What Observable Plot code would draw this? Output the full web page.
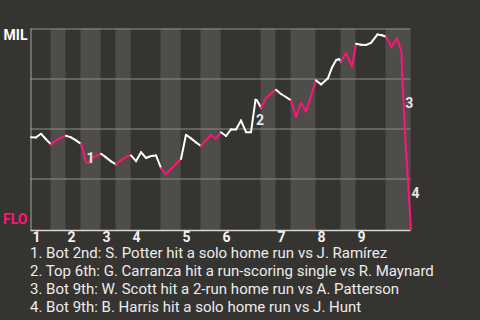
<!DOCTYPE html>
<html>
<head>
<meta charset="utf-8">
<script src="https://cdn.jsdelivr.net/npm/d3@7"></script>
<script src="https://cdn.jsdelivr.net/npm/@observablehq/plot@0.6"></script>
<style>
  html, body { margin: 0; padding: 0; background: #363430; }
  body { width: 480px; height: 320px; overflow: hidden; font-family: Roboto, sans-serif; }
  #caption { padding-left: 30px; font-size: 15px; line-height: 18px; color: #ececec; white-space: nowrap; }
  svg { display: block; }
</style>
</head>
<body>
<div id="chart"></div>
<div id="caption"></div>
<script>
// Half-inning boundaries (play index where each half starts, last = end of game)
const halfStarts = [0, 4, 7, 10, 14, 17, 20, 26, 30, 34, 38, 46, 49, 52, 57, 62, 65, 71, 76];
const innings = ["1", "2", "3", "4", "5", "6", "7", "8", "9"];
const teams = ["MIL", "FLO"];

// Play position and MIL win probability after each play
const playT = [0, 1, 2, 3, 4, 5, 6, 7, 8, 9, 10, 11, 11.6, 12, 13, 14, 15, 16, 17, 18, 19, 20,
  21, 22, 23, 24, 25, 26, 27, 28, 29, 30, 31, 32, 33, 34, 35, 36, 37, 38, 39, 40, 41, 42, 43, 44,
  44.9, 45.2, 46, 47, 48, 49, 50, 51, 52, 53, 54, 55, 56, 57, 58, 59.4, 60.2, 61, 61.6, 62, 63,
  64.2, 65, 66, 67, 68, 69.3, 70.2, 71, 72.1, 73.2, 74.1, 74.2, 74.76, 74.96, 76];
const winProb = [0.459, 0.458, 0.476, 0.449, 0.423, 0.443, 0.456, 0.466, 0.458, 0.443, 0.426,
  0.333, 0.331, 0.355, 0.365, 0.376, 0.358, 0.338, 0.323, 0.343, 0.361, 0.368,
  0.339, 0.384, 0.355, 0.365, 0.368, 0.305, 0.273, 0.301, 0.326, 0.350, 0.471, 0.453, 0.433,
  0.415, 0.443, 0.470, 0.451, 0.484, 0.465, 0.498, 0.498, 0.543, 0.484, 0.484,
  0.646, 0.643, 0.606, 0.655, 0.678, 0.696, 0.675, 0.660, 0.643, 0.559, 0.630, 0.588, 0.665,
  0.743, 0.723, 0.754, 0.808, 0.844, 0.850, 0.837, 0.880,
  0.813, 0.926, 0.921, 0.920, 0.931, 0.973, 0.969, 0.961, 0.911, 0.955, 0.885, 0.793, 0.509,
  0.409, 0];

// Key plays
const eventT = [11, 44.9, 74.76, 76];
const eventLabels = ["1", "2", "3", "4"];
const eventText = [
  "Bot 2nd: S. Potter hit a solo home run vs J. Ramírez",
  "Top 6th: G. Carranza hit a run-scoring single vs R. Maynard",
  "Bot 9th: W. Scott hit a 2-run home run vs A. Patterson",
  "Bot 9th: B. Harris hit a solo home run vs J. Hunt"
];

const WHITE = "#ffffff";
const PINK = "#ff1477";

// derived structures
const bands = [];
for (let k = 1; k < halfStarts.length - 1; k += 2) bands.push({x1: halfStarts[k], x2: halfStarts[k + 1]});
const inningStarts = innings.map((name, i) => ({t: halfStarts[2 * i], name}));
function halfOf(t) {
  for (let k = 0; k < halfStarts.length - 1; k++) if (t > halfStarts[k] && t <= halfStarts[k + 1]) return k;
  return 0;
}
const segments = [];
for (let i = 1; i < playT.length; i++) {
  segments.push({x1: playT[i - 1], y1: winProb[i - 1], x2: playT[i], y2: winProb[i], color: halfOf(playT[i]) % 2 ? PINK : WHITE});
}
const eventMarks = eventT.map((t, j) => {
  const i = playT.indexOf(t);
  return {t, y: (winProb[i - 1] + winProb[i]) / 2, label: eventLabels[j]};
});

const chart = Plot.plot({
  width: 480,
  height: 244,
  marginLeft: 30.5,
  marginRight: 69.5,
  marginTop: 28.5,
  marginBottom: 15.5,
  style: {background: "transparent", fontFamily: "Roboto, sans-serif"},
  x: {domain: [0, 76], axis: null},
  y: {domain: [0, 1], axis: null},
  marks: [
    Plot.rect(bands, {x1: "x1", x2: "x2", y1: 0, y2: 1, fill: "#4e4d4a", insetBottom: -1.5}),
    Plot.ruleY([0.25, 0.5, 0.75, 1], {stroke: "#8e8d8b", strokeWidth: 1}),
    Plot.ruleX([0], {stroke: "#a5a4a2", strokeWidth: 1, insetBottom: -1.5}),
    Plot.ruleY([0], {stroke: "#d6d6d6", strokeWidth: 1.5, dy: 1.5}),
    Plot.link(segments, {x1: "x1", y1: "y1", x2: "x2", y2: "y2", stroke: "color", strokeWidth: 2, strokeLinecap: "round", strokeLinejoin: "round"}),
    Plot.text(eventMarks, {x: "t", y: "y", text: "label", textAnchor: "start", lineAnchor: "middle", dx: 0.5, dy: 5, fill: "#e6e6e6", fontWeight: "bold", fontSize: 14}),
    Plot.text(inningStarts, {x: "t", y: 0, text: "name", textAnchor: "start", lineAnchor: "middle", dx: 1.5, dy: 8.5, fill: "#f2f2f2", fontWeight: "bold", fontSize: 14}),
    Plot.text([teams[0]], {x: 0, y: 1, text: d => d, textAnchor: "end", lineAnchor: "middle", dx: -3.5, dy: 6.5, fill: "#ffffff", fontWeight: "bold", fontSize: 14}),
    Plot.text([teams[1]], {x: 0, y: 0, text: d => d, textAnchor: "end", lineAnchor: "middle", dx: -3.5, dy: -9, fill: PINK, fontWeight: "bold", fontSize: 14})
  ]
});
document.getElementById("chart").appendChild(chart);

const cap = document.getElementById("caption");
eventText.forEach((s, j) => {
  const div = document.createElement("div");
  div.textContent = eventLabels[j] + ". " + s;
  cap.appendChild(div);
});
</script>
</body>
</html>
